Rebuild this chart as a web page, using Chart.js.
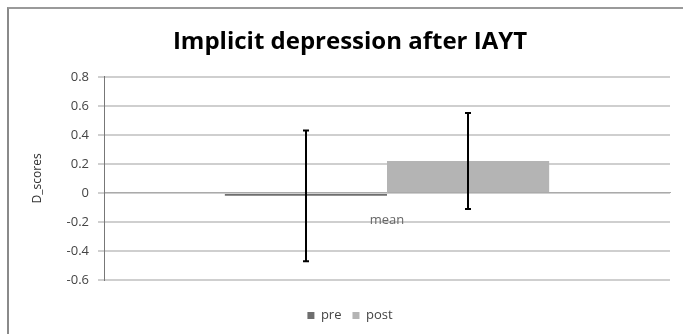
<!DOCTYPE html>
<html lang="en">
<head>
    <meta charset="UTF-8">
    <title>Implicit depression after IAYT</title>
    <script src="https://cdn.jsdelivr.net/npm/chart.js"></script>
    <style>
        html, body {
            margin: 0;
            padding: 0;
            background: #fff;
        }
        .wrap {
            position: relative;
            width: 683px;
            height: 334px;
            overflow: hidden;
        }
        .frame {
            position: absolute;
            left: 7px;
            top: 7px;
            width: 700px;
            height: 400px;
            border-top: 2px solid #9a9a9a;
            border-left: 2px solid #8a8a8a;
            pointer-events: none;
        }
    </style>
</head>
<body>
    <div class="wrap">
        <canvas id="bar_chart" width="683" height="334"></canvas>
        <div class="frame"></div>
    </div>

    <script>
        const categories = ['mean'];
        const preValues = [-0.02];
        const postValues = [0.22];
        const preErrors = [0.45];
        const postErrors = [0.33];
        const yTicks = [-0.6, -0.4, -0.2, 0, 0.2, 0.4, 0.6, 0.8];

        const errors = [preErrors, postErrors];

        // draw the error bars from the y scale
        const errorBars = {
            id: 'errorBars',
            afterDatasetsDraw(chart) {
                const ctx = chart.ctx;
                const y = chart.scales.y;
                ctx.save();
                ctx.strokeStyle = '#000';
                ctx.lineWidth = 2;
                chart.data.datasets.forEach((ds, i) => {
                    const meta = chart.getDatasetMeta(i);
                    meta.data.forEach((bar, j) => {
                        const v = ds.data[j];
                        const e = errors[i][j];
                        const top = y.getPixelForValue(v + e);
                        const bottom = y.getPixelForValue(v - e);
                        const x = Math.round(bar.x);
                        ctx.beginPath();
                        ctx.moveTo(x, top);
                        ctx.lineTo(x, bottom);
                        ctx.moveTo(x - 3, top);
                        ctx.lineTo(x + 3, top);
                        ctx.moveTo(x - 3, bottom);
                        ctx.lineTo(x + 3, bottom);
                        ctx.stroke();
                    });
                });
                ctx.restore();
            }
        };

        new Chart('bar_chart', {
            type: 'bar',
            data: {
                labels: categories,
                datasets: [{
                    label: 'pre',
                    backgroundColor: '#6e6e6e',
                    data: preValues
                }, {
                    label: 'post',
                    backgroundColor: '#b4b4b4',
                    data: postValues
                }]
            },
            options: {
                responsive: false,
                animation: false,
                layout: {
                    padding: { left: 30, right: 13, top: 0, bottom: 2 }
                },
                datasets: {
                    bar: {
                        categoryPercentage: 0.573,
                        barPercentage: 1.0
                    }
                },
                plugins: {
                    title: {
                        display: true,
                        text: 'Implicit depression after IAYT',
                        color: '#000',
                        font: { family: 'Open Sans', size: 24, weight: 'bold' },
                        padding: { top: 28, bottom: 20 }
                    },
                    legend: {
                        display: true,
                        position: 'bottom',
                        labels: {
                            boxWidth: 7,
                            boxHeight: 7,
                            padding: 11,
                            color: '#444',
                            font: { family: 'Open Sans', size: 13 }
                        }
                    },
                    tooltip: { enabled: false }
                },
                scales: {
                    x: {
                        position: { y: 0 },
                        grid: { display: false },
                        border: { display: true, color: '#aaa' },
                        ticks: {
                            padding: 12,
                            color: '#666',
                            font: { family: 'Open Sans', size: 13 }
                        }
                    },
                    gap: {
                        axis: 'x',
                        type: 'category',
                        position: 'bottom',
                        grid: { display: false },
                        border: { display: false },
                        ticks: { display: false },
                        afterFit(scale) { scale.height = 18; }
                    },
                    y: {
                        min: -0.6,
                        max: 0.8,
                        afterBuildTicks(scale) {
                            scale.ticks = yTicks.map(v => ({ value: v }));
                        },
                        afterFit(scale) { scale.width = 74; },
                        grid: {
                            color: '#cfcfcf',
                            lineWidth: 2,
                            tickLength: 6
                        },
                        border: { display: true, color: '#777', width: 1 },
                        ticks: {
                            padding: 9,
                            color: '#444',
                            font: { family: 'Open Sans', size: 13 },
                            callback: v => String(Math.round(v * 10) / 10)
                        },
                        title: {
                            display: true,
                            text: 'D_scores',
                            color: '#333',
                            font: { family: 'Open Sans', size: 12 },
                            padding: { top: 0, bottom: 0 }
                        }
                    }
                }
            },
            plugins: [errorBars]
        });
    </script>
</body>
</html>
